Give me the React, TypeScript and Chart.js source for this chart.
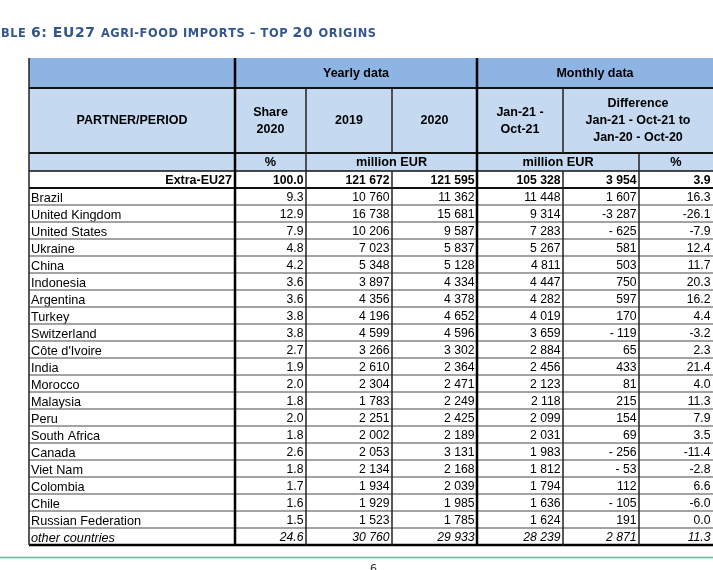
import React, { useEffect, useRef } from 'react';
import { Chart, registerables } from 'chart.js';

Chart.register(...registerables);

// ---------- data ----------
const partners = [
  'Extra-EU27', 'Brazil', 'United Kingdom', 'United States', 'Ukraine', 'China', 'Indonesia',
  'Argentina', 'Turkey', 'Switzerland', "Côte d'Ivoire", 'India', 'Morocco', 'Malaysia', 'Peru',
  'South Africa', 'Canada', 'Viet Nam', 'Colombia', 'Chile', 'Russian Federation', 'other countries',
];
const share2020 = [100.0, 9.3, 12.9, 7.9, 4.8, 4.2, 3.6, 3.6, 3.8, 3.8, 2.7, 1.9, 2.0, 1.8, 2.0, 1.8, 2.6, 1.8, 1.7, 1.6, 1.5, 24.6];
const value2019 = [121672, 10760, 16738, 10206, 7023, 5348, 3897, 4356, 4196, 4599, 3266, 2610, 2304, 1783, 2251, 2002, 2053, 2134, 1934, 1929, 1523, 30760];
const value2020 = [121595, 11362, 15681, 9587, 5837, 5128, 4334, 4378, 4652, 4596, 3302, 2364, 2471, 2249, 2425, 2189, 3131, 2168, 2039, 1985, 1785, 29933];
const janOct21 = [105328, 11448, 9314, 7283, 5267, 4811, 4447, 4282, 4019, 3659, 2884, 2456, 2123, 2118, 2099, 2031, 1983, 1812, 1794, 1636, 1624, 28239];
const diffAbs = [3954, 1607, -3287, -625, 581, 503, 750, 597, 170, -119, 65, 433, 81, 215, 154, 69, -256, -53, 112, -105, 191, 2871];
const diffPct = [3.9, 16.3, -26.1, -7.9, 12.4, 11.7, 20.3, 16.2, 4.4, -3.2, 2.3, 21.4, 4.0, 11.3, 7.9, 3.5, -11.4, -2.8, 6.6, -6.0, 0.0, 11.3];

const partnerHeader = 'PARTNER/PERIOD';
const groupHeaders = ['Yearly data', 'Monthly data'];
const columnHeaders = [['Share', '2020'], ['2019'], ['2020'], ['Jan-21 -', 'Oct-21'], ['Difference', 'Jan-21 - Oct-21 to', 'Jan-20 - Oct-20']];
const unitHeaders = ['%', 'million EUR', 'million EUR', '%'];
const pageNumber = '6';
// title segments: [text, isLargeCap]
const titleSegments: [string, boolean][] = [
  ['T', true], ['ABLE ', false], ['6: EU27 ', true], ['AGRI-FOOD IMPORTS \u2013 TOP ', false], ['20 ', true], ['ORIGINS', false],
];

// ---------- layout (not data) ----------
const COL_EDGES = [0, 71, 157, 242, 328, 404, 478];
const GROUP_SPANS = [[0, 3], [3, 6]];
const HEADER_SPANS = [[0, 1], [1, 2], [2, 3], [3, 4], [4, 6]];
const UNIT_SPANS = [[0, 1], [1, 3], [3, 5], [5, 6]];
const PARTNER_W = 206;
const TITLE_WIDTH = 375; // visible title width from "B" to the end

const FONT = '"Liberation Sans", Arial, sans-serif';

function fmtInt(v: number): string {
  const a = Math.abs(v);
  const s = a.toString().replace(/\B(?=(\d{3})+(?!\d))/g, ' ');
  if (v < 0) return a < 1000 ? '- ' + s : '-' + s;
  return s;
}
const fmtPct = (v: number) => v.toFixed(1);

const columns: { values: number[]; fmt: (v: number) => string }[] = [
  { values: share2020, fmt: fmtPct },
  { values: value2019, fmt: fmtInt },
  { values: value2020, fmt: fmtInt },
  { values: janOct21, fmt: fmtInt },
  { values: diffAbs, fmt: fmtInt },
  { values: diffPct, fmt: fmtPct },
];

const tablePlugin = {
  id: 'tableDraw',
  afterDraw(chart: any) {
    const { ctx, chartArea: ca, scales } = chart;
    const xs = scales.x;
    const ys = scales.y;
    const X = COL_EDGES.map((v) => xs.getPixelForValue(v));
    const rowH = ys.getPixelForValue(1) - ys.getPixelForValue(0);
    const rowTop = (i: number) => ys.getPixelForValue(i) - rowH / 2;
    const left = X[0] - PARTNER_W;
    const right = X[6];
    const top = ca.top;
    const bottom = rowTop(partners.length);
    const unitsTop = top - 18;
    const h2Top = unitsTop - 65;
    const h1Top = h2Top - 30;

    ctx.save();
    // fills
    ctx.fillStyle = '#8DB4E2';
    ctx.fillRect(left, h1Top, right - left, h2Top - h1Top);
    ctx.fillStyle = '#C5D9F1';
    ctx.fillRect(left, h2Top, right - left, top - h2Top);

    const text = (s: string, x: number, y: number, align: CanvasTextAlign, font: string, color = '#000') => {
      ctx.font = font;
      ctx.fillStyle = color;
      ctx.textAlign = align;
      ctx.textBaseline = 'middle';
      ctx.fillText(s, x, y);
    };
    const HB = `bold 12.5px ${FONT}`;

    // header texts
    text(partnerHeader, (left + X[0]) / 2, (h2Top + unitsTop) / 2 + 0.5, 'center', HB);
    GROUP_SPANS.forEach(([a, b], k) => text(groupHeaders[k], (X[a] + X[b]) / 2, (h1Top + h2Top) / 2 + 0.5, 'center', HB));
    HEADER_SPANS.forEach(([a, b], k) => {
      const lines = columnHeaders[k];
      const cy = (h2Top + unitsTop) / 2 + 0.5;
      lines.forEach((ln, j) => text(ln, (X[a] + X[b]) / 2, cy + (j - (lines.length - 1) / 2) * 17, 'center', HB));
    });
    UNIT_SPANS.forEach(([a, b], k) => text(unitHeaders[k], (X[a] + X[b]) / 2, (unitsTop + top) / 2 + 0.5, 'center', `bold 12.7px ${FONT}`));

    // body
    partners.forEach((p, i) => {
      const y = ys.getPixelForValue(i) + 1.5;
      const isTotal = i === 0;
      const isOther = i === partners.length - 1;
      const style = isTotal ? 'bold ' : isOther ? 'italic ' : '';
      if (isTotal) text(p, X[0] - 3, y, 'right', `bold 12.5px ${FONT}`);
      else text(p, left + 2, y, 'left', `${style}12.7px ${FONT}`);
      columns.forEach((col, c) => {
        text(col.fmt(col.values[i]), X[c + 1] - 2.5, y, 'right', `${style}12.2px ${FONT}`);
      });
    });

    // lines
    const hline = (y: number, x1: number, x2: number, w: number, color: string) => {
      ctx.beginPath();
      ctx.strokeStyle = color;
      ctx.lineWidth = w;
      ctx.moveTo(x1, y);
      ctx.lineTo(x2, y);
      ctx.stroke();
    };
    const vline = (x: number, y1: number, y2: number, w: number, color: string) => {
      ctx.beginPath();
      ctx.strokeStyle = color;
      ctx.lineWidth = w;
      ctx.moveTo(x, y1);
      ctx.lineTo(x, y2);
      ctx.stroke();
    };
    for (let i = 2; i < partners.length; i++) hline(rowTop(i), left, right, 1.6, '#858585');
    hline(rowTop(1), left, right, 2, '#111');
    hline(top, left, right, 1.5, '#111');
    hline(unitsTop, left, right, 2, '#111');
    hline(h2Top, left, right, 2, '#111');
    hline(bottom, left, right, 2.5, '#000');

    vline(left, h1Top, bottom, 1.5, '#222');
    vline(X[0], h1Top, bottom, 2.5, '#000');
    vline(X[3], h1Top, bottom, 2.5, '#000');
    vline(X[1], h2Top, bottom, 1.5, '#222');
    [X[2], X[4]].forEach((x) => {
      vline(x, h2Top, unitsTop, 1.5, '#222');
      vline(x, top, bottom, 1.5, '#222');
    });
    vline(X[5], unitsTop, bottom, 1.5, '#222');

    // title (small caps, fitted to the page width by letter spacing)
    const L = 14, S = 11.4;
    const tf = (big: boolean) => `bold ${big ? L : S}px "DejaVu Sans", Verdana, sans-serif`;
    const chars: { ch: string; big: boolean; w: number }[] = [];
    titleSegments.forEach(([s, big]) => {
      ctx.font = tf(big);
      for (const ch of s.toUpperCase()) chars.push({ ch, big, w: ctx.measureText(ch).width });
    });
    const hidden = 2; // "TA" cut by the page edge
    const visible = chars.slice(hidden);
    const natural = visible.reduce((a, c) => a + c.w, 0);
    const ls = (TITLE_WIDTH - natural) / (visible.length - 1);
    let x = 1 - (chars[0].w + chars[1].w + 2 * ls);
    ctx.textAlign = 'left';
    ctx.textBaseline = 'alphabetic';
    ctx.fillStyle = '#34578e';
    chars.forEach((c) => {
      ctx.font = tf(c.big);
      ctx.fillText(c.ch, x, 37);
      x += c.w + ls;
    });

    // footer rule and page number
    hline(557.5, 0, chart.width, 1.5, '#62bb8c');
    ctx.font = `11px "DejaVu Sans", Verdana, sans-serif`;
    ctx.fillStyle = '#333';
    ctx.textAlign = 'left';
    ctx.fillText(pageNumber, 370, 572);
    ctx.restore();
  },
};

export default function App() {
  const ref = useRef<HTMLCanvasElement>(null);
  useEffect(() => {
    document.body.style.margin = '0';
    const chart = new Chart(ref.current as HTMLCanvasElement, {
      type: 'bar',
      data: { labels: partners, datasets: [] },
      options: {
        animation: false,
        responsive: false,
        devicePixelRatio: 1,
        indexAxis: 'y',
        layout: { padding: { left: 235, top: 171, right: 0, bottom: 25 } },
        scales: {
          x: { type: 'linear', min: 0, max: 478, display: false },
          y: { type: 'category', offset: true, display: false },
        },
        plugins: { legend: { display: false }, tooltip: { enabled: false }, title: { display: false } },
      },
      plugins: [tablePlugin],
    });
    return () => chart.destroy();
  }, []);
  return (
    <div style={{ position: 'fixed', left: 0, top: 0, width: 713, height: 570, background: '#fff' }}>
      <canvas ref={ref} width={713} height={570} style={{ display: 'block' }} />
    </div>
  );
}
